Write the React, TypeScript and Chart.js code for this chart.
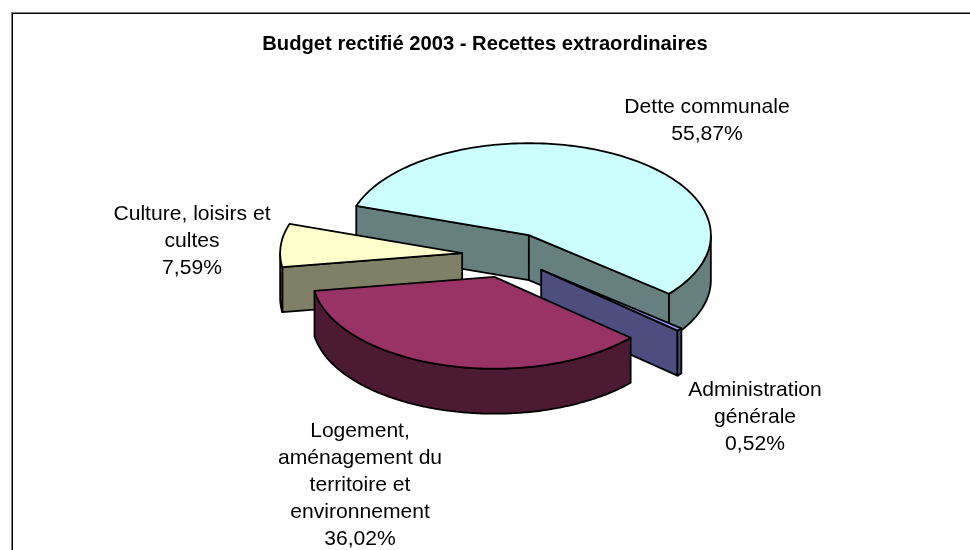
import React, { useEffect, useRef } from "react";
import { Chart, registerables } from "chart.js";

Chart.register(...registerables);

const categories = ["Dette communale", "Administration générale", "Logement, aménagement du territoire et environnement", "Culture, loisirs et cultes"];
const shares = [55.87, 0.52, 36.02, 7.59];
const topColors = ["#CCFFFF", "#9999FF", "#993366", "#FFFFCC"];
const sideColors = ["#668080", "#4D4D80", "#4D1A33", "#808066"];
const paintOrder = [0, 3, 1, 2];
const labelLines = [
  ["Dette communale", "55,87%"],
  ["Administration", "générale", "0,52%"],
  ["Logement,", "aménagement du", "territoire et", "environnement", "36,02%"],
  ["Culture, loisirs et", "cultes", "7,59%"],
];
const labelAnchors = [
  [707, 113],
  [755, 396],
  [360, 437],
  [192, 220],
];
const titleText = "Budget rectifié 2003 - Recettes extraordinaires";

const FONT = '"Liberation Sans", Arial, sans-serif';
const CENTER_X = 507;
const CENTER_Y = 255;
const SQUASH = 0.505;
const DEPTH = 45;
const RADIUS = 182;
const EXPLODE = 90;
const LINE_HEIGHT = 27;

const framePlugin = {
  id: "frame",
  beforeDraw(chart: any) {
    const { ctx, width, height } = chart;
    ctx.save();
    ctx.fillStyle = "#FFFFFF";
    ctx.fillRect(0, 0, width, height);
    ctx.fillStyle = "#808080";
    ctx.fillRect(11, 12, width - 11, 1);
    ctx.fillRect(11, 12, 1, height - 12);
    ctx.fillStyle = "#000000";
    ctx.fillRect(12, 13, width - 12, 1);
    ctx.fillRect(12, 13, 1, height - 13);
    ctx.restore();
  },
};

const pie3dPlugin = {
  id: "pie3d",
  beforeDatasetDraw(chart: any, args: any) {
    const { ctx } = chart;
    const arcs = chart.getDatasetMeta(args.index).data;
    ctx.save();
    ctx.lineWidth = 1.8;
    ctx.lineJoin = "round";
    ctx.strokeStyle = "#000000";
    for (const i of paintOrder) {
      const arc = arcs[i];
      const { startAngle, endAngle, outerRadius } = arc.getProps(["startAngle", "endAngle", "outerRadius"], true);
      const mid = (startAngle + endAngle) / 2;
      const shift = (arc.options.offset || 0) / 2;
      const ox = CENTER_X + Math.cos(mid) * shift;
      const oy = CENTER_Y + Math.sin(mid) * shift * SQUASH;
      const px = (a: number) => ox + Math.cos(a) * outerRadius;
      const py = (a: number) => oy + Math.sin(a) * outerRadius * SQUASH;
      const paint = (fill: string) => {
        ctx.fillStyle = fill;
        ctx.fill();
        ctx.stroke();
      };
      const walls = [
        { a: startAngle, facing: -Math.cos(startAngle) > 0 },
        { a: endAngle, facing: Math.cos(endAngle) > 0 },
      ];
      for (const { a, facing } of walls) {
        if (!facing) continue;
        ctx.beginPath();
        ctx.moveTo(ox, oy);
        ctx.lineTo(px(a), py(a));
        ctx.lineTo(px(a), py(a) + DEPTH);
        ctx.lineTo(ox, oy + DEPTH);
        ctx.closePath();
        paint(sideColors[i]);
      }
      const steps = 180;
      const front: number[] = [];
      for (let s = 0; s <= steps; s++) {
        const a = startAngle + ((endAngle - startAngle) * s) / steps;
        if (Math.sin(a) >= 0) front.push(a);
      }
      if (front.length > 1) {
        ctx.beginPath();
        front.forEach((a, n) => (n ? ctx.lineTo(px(a), py(a)) : ctx.moveTo(px(a), py(a))));
        [...front].reverse().forEach((a) => ctx.lineTo(px(a), py(a) + DEPTH));
        ctx.closePath();
        paint(sideColors[i]);
      }
      ctx.beginPath();
      ctx.moveTo(ox, oy);
      for (let s = 0; s <= steps; s++) {
        const a = startAngle + ((endAngle - startAngle) * s) / steps;
        ctx.lineTo(px(a), py(a));
      }
      ctx.closePath();
      paint(arc.options.backgroundColor);
    }
    ctx.restore();
    return false;
  },
  afterDatasetsDraw(chart: any) {
    const { ctx } = chart;
    ctx.save();
    ctx.fillStyle = "#000000";
    ctx.font = `21.1px ${FONT}`;
    ctx.textAlign = "center";
    ctx.textBaseline = "alphabetic";
    labelLines.forEach((lines, i) => {
      const [x, y] = labelAnchors[i];
      lines.forEach((line, n) => ctx.fillText(line, x, y + n * LINE_HEIGHT));
    });
    ctx.restore();
  },
};

export default function App() {
  const ref = useRef<HTMLCanvasElement>(null);
  useEffect(() => {
    document.body.style.margin = "0";
    const chart = new Chart(ref.current as HTMLCanvasElement, {
      type: "pie",
      data: {
        labels: categories,
        datasets: [
          {
            data: shares,
            backgroundColor: topColors,
            offset: EXPLODE,
            radius: RADIUS,
          } as any,
        ],
      },
      options: {
        animation: false,
        responsive: false,
        rotation: 288.5,
        layout: { padding: 0 },
        plugins: {
          legend: { display: false },
          tooltip: { enabled: false },
          title: {
            display: true,
            text: titleText,
            color: "#000000",
            font: { family: FONT, size: 20.2, weight: "bold", lineHeight: 1.2 },
            padding: { top: 32, bottom: 10 },
          },
        },
      },
      plugins: [framePlugin, pie3dPlugin],
    } as any);
    return () => chart.destroy();
  }, []);
  return <canvas ref={ref} width={970} height={550} style={{ display: "block", width: 970, height: 550 }} />;
}
